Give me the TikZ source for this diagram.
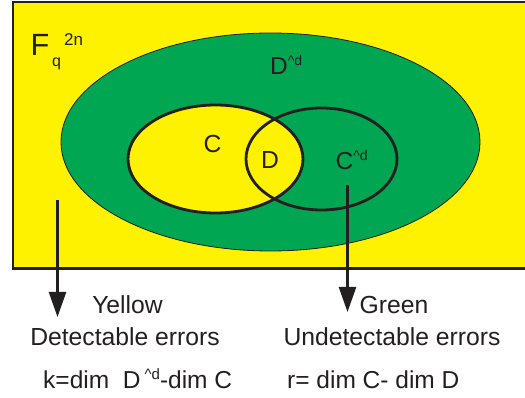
\documentclass[tikz,border=0pt]{standalone}
\usepackage{fontspec}
\setmainfont{Liberation Sans}
\usetikzlibrary{shapes.geometric, arrows.meta}
\definecolor{fieldyellow}{HTML}{FFF200}
\definecolor{dualgreen}{HTML}{00A651}
\definecolor{inkblack}{HTML}{231F20}
\newcommand{\hatd}{\raisebox{9pt}{\fontsize{14}{14}\selectfont\textasciicircum d}}

\begin{document}
\begin{tikzpicture}[
    x=1pt, y=-1pt,
    field/.style={rectangle, draw=inkblack, line width=2.5pt, fill=fieldyellow, inner sep=0pt},
    region/.style={ellipse, draw=inkblack, inner sep=0pt},
    lbl/.style={inner sep=0pt, anchor=base west, text=inkblack, font=\fontsize{24.5}{29}\selectfont},
    note/.style={inner sep=0pt, anchor=base, text=inkblack, font=\fontsize{24.7}{29}\selectfont},
    arr/.style={-{Triangle[length=25pt, width=17pt]}, line width=2.5pt, draw=inkblack}
]
\useasboundingbox (0,0) rectangle (525,398);

\node[field, minimum width=540pt, minimum height=266.5pt, anchor=north west] (field) at (11.5,1) {};

\node[region, fill=dualgreen, line width=0.8pt, minimum width=419pt, minimum height=218pt] (ddual) at (270.5,142) {};
\node[region, fill=fieldyellow, line width=2.8pt, minimum width=175pt, minimum height=108pt] (cset) at (215.5,159) {};
\node[region, line width=2.8pt, minimum width=151pt, minimum height=102pt] (cdual) at (321.5,159) {};

\node[lbl, font=\fontsize{30.7}{36}\selectfont] (F) at (30.5,56) {F};
\node[lbl, font=\fontsize{16}{18}\selectfont] (q) at (52,66.5) {q};
\node[lbl, font=\fontsize{17}{19}\selectfont] (twon) at (64,46) {2n};
\node[lbl] (ddlbl) at (270,75) {D\hatd};
\node[note] (clbl) at (212.5,152.7) {C};
\node[note] (dlbl) at (270,169) {D};
\node[lbl] (cdlbl) at (335.5,170) {C\hatd};

\coordinate (ytail) at (57.5,200);
\coordinate (ytip) at (57.5,317);
\coordinate (gtail) at (347.5,185);
\coordinate (gtip) at (347.5,312);
\draw[arr] (ytail) -- (ytip);
\draw[arr] (gtail) -- (gtip);

\node[note] (yellow) at (127.5,313) {Yellow};
\node[note] (detect) at (125,345) {Detectable errors};
\node[note] (green) at (394,313) {Green};
\node[note] (undetect) at (392,345) {Undetectable errors};
\node[lbl] (kdim) at (43,388) {k=dim\ \ D\,{\fontsize{15}{15}\selectfont\raisebox{9pt}{\textasciicircum d}}-dim C};
\node[lbl] (rdim) at (287,388) {r= dim C- dim D};

\end{tikzpicture}
\end{document}
